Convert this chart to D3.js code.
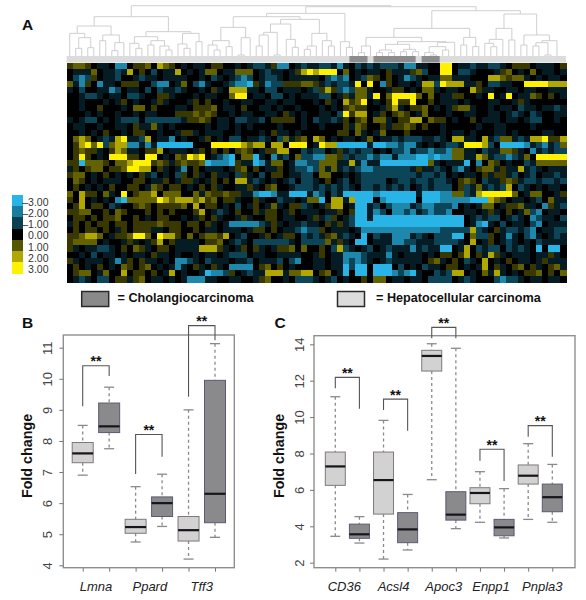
<!DOCTYPE html>
<html><head><meta charset="utf-8">
<script src="https://cdn.jsdelivr.net/npm/d3@7"></script>
<style>html,body{margin:0;padding:0;background:#fff}svg{display:block}text{font-family:"Liberation Sans",Arial,sans-serif}</style>
</head><body><svg id="c" width="586" height="600"></svg>
<script>
// Heatmap levels, one string per gene row, one char per sample
const levelKey = {t:-3,s:-2.2,r:-1.1,q:-0.45,'.':0,o:0.65,'1':1.15,'2':2,'3':3};
const heatRows = [
"o11o.qq.ss .oo1.21o.q .qq.oo..q. qrrqoss.qr qqrrqsq.rq rqrrrqssqq ..33.qqrqq rrq.ooo.qq q.o",
".qqq1.qqrq 2.o.r.qq2. q.q11.qq11 1.qrqq.qo2 3233301.q. qq.oqqqo1r ..33.rrq.. .qo1.q.1.q q.q",
".rsro.qqr. .qrqq.qqqq ..q.rq.qrs r.qrrq.qqq qq.rsrs.qr 1o.o.qsrq. qq11qqq... 221o11q.q. qq.",
"1qso.sqq.o oo..rss.q1 .rsq..qrss toqsrrooo1 1oqrqrrq3. 3.so.qq.q2 2r3222qqo. rrqq..3333 222",
"q.r..qqsr. qq.r.rqqrq ..q.oq.222 qq.rr.qqq. qro2orsr11 q..qoo.q.1 1q.qq..2oq q..qq.qq.. qqq",
"..qrrq.qq. rrq..ooq.. .q.qq..133 .qq.rr.q.q qqrr.qoq11 q3.133331. 1.qqoo..q. 3.q3.qq1o. o.q",
"..q...q.qo .q..qoq... qo.o..q..q q..qq.qq.. .q.oq.2o13 .q.o3oo3.. o.qqq.q... qq..qoq... ...",
"..q..o...q .11.o...qq .ooo1.qq.o ..qq.q..q. ..q.q.o1oo ..qo2q.oo1 .q.qo11q.. q.qq.rqq.q qrq",
"...q.q..q. .q.qq...oo o1o1o..q.q q..qq.oq.q ..qq.r3o22 .qo.o1o.q1 ...q..qq.. qq.qrq.rq. .qq",
"q.qrr.q.qr rr.rrrrrrq oo1o.qq.rr qqr.oooo.q .rqqrqo.o1 .11q.oo22. 1oo.q..o.q qq.qq.qrr. .q.",
".qq..q..qq .oqq1q.q.. ...q.qq.q. q....q...q ..q...oq1o ..oqoo1o.o ..q.....q. .qq....q.. ...",
"..q.q.o..q .oo..q..qo oq.qqq..q. ..q.oqq.q. .....oo.1q .q1...o... ..q.qq.q.. .qq.q....q q..",
".121.qrq23 qqr2.qqs.q ..qo.q.rr. qqrq.r1qo1 .21.q.qq.q 1.qqrqrrrq qrq.22qq.2 qr11qrq223 oo2",
".o2313r122 ssqsqttttt t...333332 122.22.333 .q322ttttt qttssrssq. q.qrrq3332 r.ttttsqrs qr1",
".o1ooq.o21 qq.oo2.qqq .qo.o.o.o1 o.qoo22..r qrr.qoqrqr r.q.rrsqrr srrs11qq.r qq11oq.sqr qrr",
".o3o.q.333 oo.33.q.1o 323.qrst.1 1tq.sqr.1r rss11orqrr srssqssstt stss11qq21 qrrsrq1.33 333",
"oot111o.11 2333o1oqo1 oo1tssstoq qtsq11.qss rr111qq2qs qqtttttttt 1q.qqqt.s. 1o.q..rq11 111",
"qo.o11.oo1 3322.oq.qs .o.qqq.qo1 .o.qqo.qrr sr1q1qrqrs srrrrrrqoq qrq.rsq.o1 1qoqq2qrq. qqq",
"o11.q.o.q. q.oqr.q.ro .oq.oqq.ro q.r.oo.qqr r.11..q.qr rrrrrrrrqr rqr.q.qq.o qooqr.qr.q qrq",
".1o.q.qqq. .oo.qqo.qo oq.qo.o.22 qrq.q.qr.r rq.o.qr.qr rrr.qrrqrr qrrq.o1o.r qqo1oqrrqr rqr",
".o.q.q.o.. oo.q1o.oo. q.o.oq..qq oq.o1..qrr rqrqrqrq.r rqrqrqr.qr qrrr.orq1q rqr2.rq.q. qq.",
"1.2oo.1q.3 .o112.111. .1q1oo1ooq qsttsqqttt qsr.rqtttt tsttttttqt ttss11rq23 33331.q11. .qo",
"o.2.q.q.st 1111132122 212o1.ooq. .oq..rqq.q 11t.22q2tt t.sttttt.t ttsssssttt 21o.qq.qr. 1qq",
".o2.oo.rq. .o1o.oooo1 .2.oo.q.r. qo.q1q.oor q.qo22.qtt qr.rsssqrs srrrs.q.q1 1.qoo1qq.s oqr",
"oo11..o.1o ...o.o.o.. .o2.qrq.o. .oqoo.qo.q qq.qqo.ott qsr.ssrsqr srrs..qq.q oq.o.q1rs. qq.",
".oo.o.oo1. .o.q.oo..q .qo.oq..qo q..oo.qq.. qoqro.qrtt qttttttttt tttttt.qrq rr.qrq.srq q.r",
"qo.o.oo.oo .oooo1ooo. oo.oq.qsss ssrqoq.qqr qq.oqoqrtt tttttttttt tttttt.qst q.r.qq.rs. qqq",
".o.oo.o.qo .oooqq.oo. .o.qq.qqq. qoo.o.qqrs rro.qqq.qs ssssssssss ssrrrrr2rq .oqrrqrs.q qrr",
"oo1221.qoo 1331.322o. 1.o11o2.qr ..qo.qoo.r qrqo1qrq.t .rqqsssqrq .rrrtt.1rr o.qsq.rsq. qrq",
"o1111.q..q oq.qo2.oqq qq.oo1.qrq .rrrrrrq.r rrr1qoq.tt .qqqssrrqq qrrrrq.2.q o.qrq.q.rq qqq",
"oq.qqrrq.o .1oq.oo.qq qq222oq.qo .oq.qoo1.1 ..o.r2rq.q r.qrqqqsqr qqtt.q2.rq rr.rqrq.t. tt.",
"..q.r.qq.q .qq.oqq.q. .q.qq.qrrr .qq..qqqq. .qo.qqsssr qqqsq.qqq. q.oo.o2.oq 2oq.qqq.qq oq.",
"oq.qqq.qsq o.oqq.q.ss rq.rqqq.qq r.qqqr.rs. .qq.qqsrsr q.qrqqqqq. o1q.o.rq.2 .q.o.qq.qo qqq",
".o.q.o.q.1 o.o1.q.qsq .oq.oq.sss s.o1.o.q.. .qq.qqtrtt .ttt.r.q.r qq.oo.q.q2 .oq.o1.oq. o1q",
".o11.q1..2 .oo.o.q2.q ..qtssro.q rqq222q112 2.o1.qt.tt .tttsrstq. .rqr22.q.1 q2q.q.oo1. o.1",
".qrq.rr.oo qo1.qq.q.q sssqq..qq. .qo1..q.rr rq.qr.q..o .11.qq.qq. rrrr.qrq.. .rsrrq.qq. qq."
];
const heatColumns = 83;
// Samples in the tumour-type band that are cholangiocarcinoma [first,last]
const cholangioRuns = [[47,49],[51,57],[59,61]];
// Dendrogram: [merge level, left, right]; numbers alone are sample columns
const dendrogram = [17,
 [50,
  [78,
   [100,0,[113,[145,1,2],[143,3,4]]],
   [105,[122,5,6],[128,[152,7,8],9]]],
  [95,
   [110,[130,10,[145,11,12]],[122,[135,13,14],[138,15,[150,16,17]]]],
   [100,[132,18,[145,19,20]],[125,21,22]]]],
 [20,
  [40,
   [50,
    [82,[122,[135,23,[150,24,25]],[140,26,27]],[113,[165,28,29],30]],
    [58,
     [72,[97,[105,[138,31,32],33],[165,34,35]],[118,36,[142,37,38]]],
     [100,[138,[148,39,40],41],[122,42,[138,43,44]]]]],
   [125,45,[142,46,47]]],
  [32,
   [85,
    [112,
     [138,[158,48,49],50],
     [125,
      [133,[150,[158,51,52],[158,53,54]],[148,[155,55,56],[155,57,58]]],
      [127,[140,[158,59,[165,60,61]],[150,62,63]],64]]],
    [112,[135,65,66],[140,67,68]]],
   [42,
    [85,[118,[130,69,[140,70,71]],72],[120,73,74]],
    [105,[135,75,76],[122,[128,[138,77,78],[165,79,80]],81]]]]]];
const legendLevels = [-3,-2,-1,0,1,2,3];
const legendLabels = ["\u20133.00","\u20132.00","\u20131.00","0.00","1.00","2.00","3.00"];
const tumourLabels = ["= Cholangiocarcinoma","= Hepatocellular carcinoma"];

// Box plots: [low whisker, q1, median, q3, high whisker], hepatocellular then cholangio
const genesB = ["Lmna","Ppard","Tff3"];
const hccB = [[6.9,7.3,7.6,7.95,8.5],[4.75,5.03,5.23,5.48,6.53],[4.2,4.78,5.13,5.57,9.0]];
const ccaB = [[7.75,8.27,8.47,9.22,9.73],[5.25,5.57,6.0,6.2,6.93],[4.9,5.37,6.3,9.95,11.13]];
// Bracket levels: [left foot, top, right foot]
const bracketsB = [[9.12,10.42,10.09],[6.94,8.21,7.49],[9.42,11.71,11.24]];
const ticksB = [4,5,6,7,8,9,10,11];
const genesC = ["CD36","Acsl4","Apoc3","Enpp1","Pnpla3"];
const hccC = [[3.45,6.25,7.29,8.08,11.12],[2.2,4.67,6.54,8.08,9.82],[6.56,12.53,13.36,13.67,14.03],[4.22,5.24,5.83,6.12,7.0],[4.38,6.32,6.78,7.37,8.54]];
const ccaC = [[3.08,3.34,3.56,4.12,4.53],[2.7,3.1,3.83,4.75,5.75],[3.87,4.34,4.64,5.9,13.78],[3.36,3.48,3.94,4.38,6.07],[4.22,4.8,5.6,6.32,7.4]];
const bracketsC = [[11.58,12.18,10.46],[10.39,10.99,9.25],[14.33,14.93,14.33],[7.6,8.23,6.49],[8.92,9.53,7.82]];
const ticksC = [2,4,6,8,10,12,14];

const svg = d3.select("#c");
const letter = (t,x,y)=>svg.append("text").attr("x",x).attr("y",y).attr("font-size",15.5).attr("font-weight","bold").attr("fill","#111").text(t);
letter("A",22,30);letter("B",22,327.5);letter("C",274.5,328);

// Heatmap
const H = {l:66.7,r:566,t:62.5,b:282};
const matrix = heatRows.map(s=>{const c=s.replace(/ /g,"").split("").map(k=>levelKey[k]);while(c.length<heatColumns)c.push(0);return c.slice(0,heatColumns);});
const hx = d3.scaleBand().domain(d3.range(heatColumns)).range([H.l,H.r]);
const hy = d3.scaleBand().domain(d3.range(matrix.length)).range([H.t,H.b]);
const heatColor = d3.scaleLinear().domain([-3,-2,-1,0,1,2,3]).range(["#28b4e6","#1a7c9e","#0c3f50","#000000","#565600","#b0a800","#fff200"]);
const heat = svg.append("g").attr("shape-rendering","crispEdges").style("filter","blur(0.45px)");
matrix.forEach((row,r)=>heat.selectAll(null).data(row).join("rect")
  .attr("x",(d,i)=>hx(i)).attr("y",hy(r)).attr("width",hx.bandwidth()+.5).attr("height",hy.bandwidth()+.5)
  .attr("fill",d=>heatColor(d)));
// band of tumour type
svg.append("rect").attr("x",H.l).attr("y",56).attr("width",H.r-H.l).attr("height",H.t-56).attr("fill","#dcdcdc");
svg.append("g").selectAll("rect").data(cholangioRuns).join("rect")
  .attr("x",d=>hx(d[0])).attr("y",56).attr("height",H.t-56)
  .attr("width",d=>hx(d[1])+hx.bandwidth()-hx(d[0])).attr("fill","#8c8c8c");
// dendrogram
const dy = d3.scaleLinear().domain([168,17]).range([56,5.7]);
const dg = svg.append("g").attr("fill","none").attr("stroke","#cfcfcf").attr("stroke-width",1);
function drawTree(n){
  if(typeof n==="number")return {x:hx(n)+hx.bandwidth()/2,y:56};
  const a=drawTree(n[1]),b=drawTree(n[2]),y=dy(n[0]);
  const p=d3.path();p.moveTo(a.x,a.y);p.lineTo(a.x,y);p.lineTo(b.x,y);p.lineTo(b.x,b.y);
  dg.append("path").attr("d",p.toString());
  return {x:(a.x+b.x)/2,y};
}
drawTree(dendrogram);

// colour key
const ky = d3.scaleBand().domain(legendLevels).range([195,273.3]);
svg.append("g").attr("shape-rendering","crispEdges").selectAll("rect").data(legendLevels).join("rect")
  .attr("x",12).attr("width",11.3).attr("y",d=>ky(d)).attr("height",ky.bandwidth()+.3).attr("fill",d=>heatColor(d));
svg.append("g").selectAll("text").data(legendLevels).join("text")
  .attr("x",48.5).attr("y",d=>ky(d)+ky.bandwidth()/2+5.2).attr("text-anchor","end").attr("font-size",10.5).attr("fill","#333")
  .text((d,i)=>legendLabels[i]);

// tumour-type key
[[81.7,"#8a8a8a",117.5,0],[337.5,"#dcdcdc",376,1]].forEach(([x,f,tx,i])=>{
  svg.append("rect").attr("x",x).attr("y",291.5).attr("width",27).attr("height",15).attr("fill",f).attr("stroke","#2a2a2a").attr("stroke-width",1.5);
  svg.append("text").attr("x",tx).attr("y",302.3).attr("font-size",12.65).attr("font-weight","bold").attr("fill","#111").text(tumourLabels[i]);
});

// box panels
function boxPanel(o){
  const y=d3.scaleLinear().domain(o.yd).range(o.yr);
  const n=o.genes.length*2;
  const x=d3.scalePoint().domain(d3.range(n)).range(o.xr);
  const g=svg.append("g");
  const boxes=[];o.genes.forEach((_,i)=>{boxes.push({v:o.hcc[i],k:2*i,dark:false});boxes.push({v:o.cca[i],k:2*i+1,dark:true});});
  const bw=o.bw;
  boxes.forEach(b=>{
    const cx=x(b.k),[lo,q1,m,q3,hi]=b.v;
    const wc="#8a8a8a";
    g.append("line").attr("x1",cx).attr("x2",cx).attr("y1",y(hi)).attr("y2",y(q3)).attr("stroke",wc).attr("stroke-width",1.3).attr("stroke-dasharray","3,3");
    g.append("line").attr("x1",cx).attr("x2",cx).attr("y1",y(q1)).attr("y2",y(lo)).attr("stroke",wc).attr("stroke-width",1.3).attr("stroke-dasharray","3,3");
    [hi,lo].forEach(v=>g.append("line").attr("x1",cx-5).attr("x2",cx+5).attr("y1",y(v)).attr("y2",y(v)).attr("stroke",wc).attr("stroke-width",1.3));
    g.append("rect").attr("x",cx-bw/2).attr("width",bw).attr("y",y(q3)).attr("height",y(q1)-y(q3))
      .attr("fill",b.dark?"#8a8a8c":"#d2d2d2").attr("stroke",b.dark?"#5a5a74":"#80787a").attr("stroke-width",1);
    g.append("line").attr("x1",cx-bw/2).attr("x2",cx+bw/2).attr("y1",y(m)).attr("y2",y(m)).attr("stroke","#15151c").attr("stroke-width",2.2);
  });
  // frame and axes
  g.append("rect").attr("x",o.fx[0]).attr("y",o.fy[0]).attr("width",o.fx[1]-o.fx[0]).attr("height",o.fy[1]-o.fy[0]).attr("fill","none").attr("stroke","#8f8f8f").attr("stroke-width",1.4);
  const ax=g.append("g").attr("transform",`translate(${o.fx[0]},0)`).call(d3.axisLeft(y).tickValues(o.ticks).tickSize(4).tickFormat(d3.format("d")));
  ax.select(".domain").remove();ax.selectAll("line").attr("stroke","#777");
  ax.selectAll("text").attr("font-size",13).attr("fill","#444").attr("text-anchor","middle")
    .attr("x",0).attr("y",0).attr("dy","0.35em").attr("transform",`translate(${-o.tickOff},0) rotate(-90)`);
  const bx=g.append("g").attr("transform",`translate(0,${o.fy[1]})`).call(d3.axisBottom(x).tickSize(4).tickFormat(""));
  bx.select(".domain").remove();bx.selectAll("line").attr("stroke","#777");
  o.genes.forEach((t,i)=>g.append("text").attr("x",(x(2*i)+x(2*i+1))/2+o.labDx[i]).attr("y",591).attr("text-anchor","middle")
    .attr("font-size",13).attr("font-style","italic").attr("fill","#222").text(t));
  g.append("text").attr("transform",`translate(${o.titleX},${o.titleY}) rotate(-90)`).attr("text-anchor","middle")
    .attr("font-size",14.3).attr("font-weight","bold").attr("fill","#111").text("Fold change");
  o.brackets.forEach((b,i)=>{
    const a=x(2*i)+o.bdx,c=x(2*i+1)+o.bdx,p=d3.path();
    p.moveTo(a,y(b[0]));p.lineTo(a,y(b[1]));p.lineTo(c,y(b[1]));p.lineTo(c,y(b[2]));
    g.append("path").attr("d",p.toString()).attr("fill","none").attr("stroke","#555").attr("stroke-width",1.1);
    g.append("text").attr("x",(a+c)/2).attr("y",y(b[1])+0.5).attr("text-anchor","middle").attr("font-size",14).attr("font-weight","bold").attr("fill","#111").text("**");
  });
}
boxPanel({genes:genesB,hcc:hccB,cca:ccaB,brackets:bracketsB,ticks:ticksB,yd:[4,11],yr:[565.3,347.7],xr:[82.7,215],bw:21,
  fx:[63.3,234.3],fy:[335,567.7],tickOff:15.5,labDx:[0,1,0],titleX:32,titleY:456,bdx:0});
boxPanel({genes:genesC,hcc:hccC,cca:ccaC,brackets:bracketsC,ticks:ticksC,yd:[2,14],yr:[562.7,344.3],xr:[335.3,552.3],bw:20,
  fx:[314,575],fy:[335.7,567.7],tickOff:14.5,labDx:[-3,-2,0,-1,2],titleX:284,titleY:456,bdx:0});
</script></body></html>
